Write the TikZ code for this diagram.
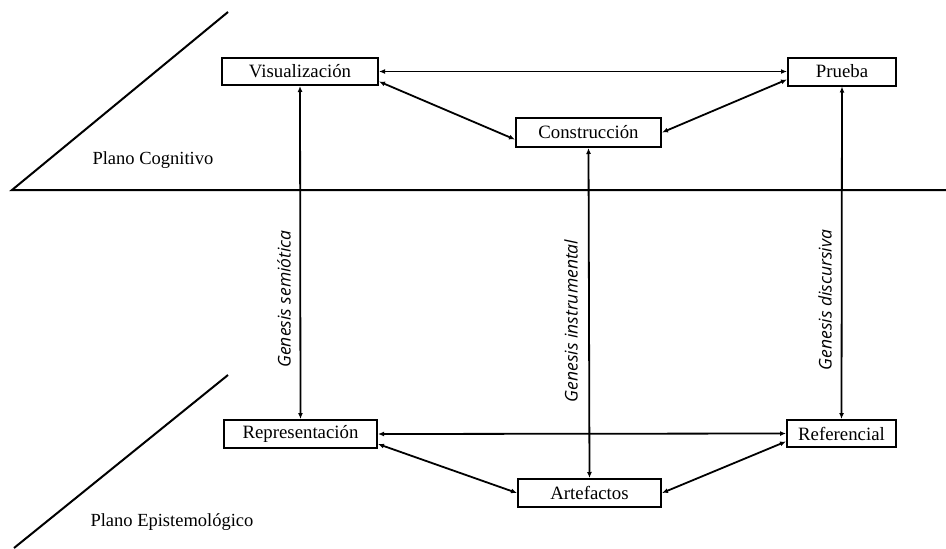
\documentclass[tikz,border=0pt]{standalone}
\usepackage{fontspec}
\setmainfont{Liberation Serif}
\newfontfamily\lblfont{Open Sans}
\usetikzlibrary{arrows.meta}
\begin{document}
\begin{tikzpicture}[x=1pt,y=-1pt,
  box/.style={draw,line width=2pt,inner sep=0pt,font=\fontsize{18.8}{22}\selectfont},
  link/.style={line width=1.8pt,{Latex[length=6pt,width=5pt]}-{Latex[length=6pt,width=5pt]}},
  plane/.style={line width=2pt},
  gen/.style={font=\lblfont\itshape\fontsize{17.5}{20}\selectfont,rotate=90},
  plano/.style={font=\fontsize{18.5}{22}\selectfont,anchor=west}]
\useasboundingbox (0,0) rectangle (946,549);
\fill[white] (0,0) rectangle (946,549);
% planes
\coordinate (h0) at (12,190);
\coordinate (h1) at (946,190);
\coordinate (d0) at (228,12);
\coordinate (d1) at (228,375);
\coordinate (d2) at (14,548);
\draw[plane] (d0) -- (h0) -- (h1);
\draw[plane] (d1) -- (d2);
\node[plano] (pc) at (89,160) {Plano Cognitivo};
\node[plano] (pe) at (87,522) {Plano Epistemológico};
% boxes
\node[box,minimum width=156pt,minimum height=27pt] (vis) at (300,71.5) {Visualización};
\node[box,minimum width=108pt,minimum height=28pt] (prb) at (842,71.5) {Prueba};
\node[box,minimum width=145pt,minimum height=29pt] (con) at (588.5,132.5) {Construcción};
\node[box,minimum width=153pt,minimum height=28pt] (rep) at (300.5,434) {Representación};
\node[box,minimum width=143pt,minimum height=28pt] (art) at (589.5,493) {Artefactos};
\node[box,minimum width=109pt,minimum height=27pt] (ref) at (841.5,433.5) {Referencial};
% connectors
\draw[link] (vis.east) -- (prb.west);
\draw[link] ([yshift=-10pt]vis.east) -- ([yshift=-7pt]con.west);
\draw[link] (con.east) -- ([yshift=-8pt]prb.west);
\draw[link] (vis.south) -- (rep.north);
\draw[link] (con.south) -- (art.north);
\draw[link] (prb.south) -- (ref.north);
\draw[link] (rep.east) -- (ref.west);
\draw[link] ([yshift=-10pt]rep.east) -- (art.west);
\draw[link] (art.east) -- ([yshift=-8pt]ref.west);
% labels
\node[gen] (gs) at (284,299) {Genesis semiótica};
\node[gen] (gi) at (571,321) {Genesis instrumental};
\node[gen] (gd) at (825,300) {Genesis discursiva};
\end{tikzpicture}
\end{document}
